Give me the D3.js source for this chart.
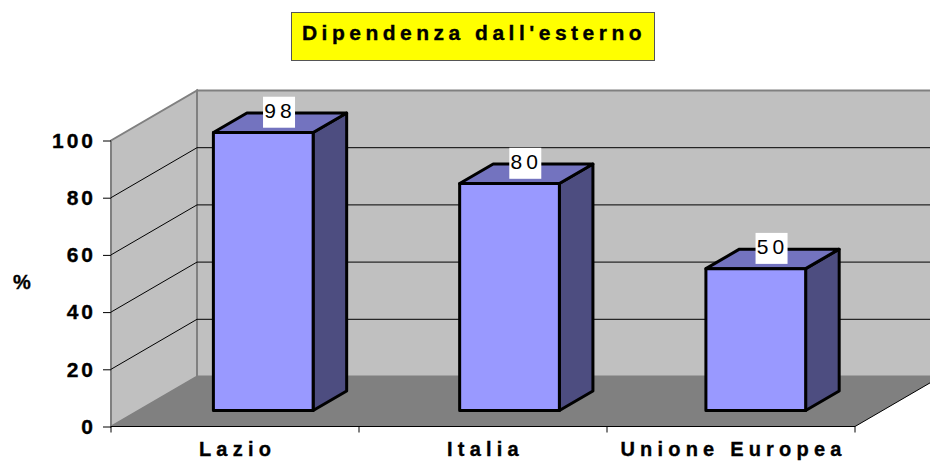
<!DOCTYPE html>
<html>
<head>
<meta charset="utf-8">
<script src="https://cdn.jsdelivr.net/npm/d3@7"></script>
<style>
    html, body { margin: 0; padding: 0; background: #fff; }
    svg { display: block; }
    text { font-family: "Liberation Sans", Arial, sans-serif; fill: #000; }
    .bold { font-weight: bold; stroke: #000; stroke-width: 0.35px; }
</style>
</head>
<body>
<div id="chart"></div>
<script>
var categories = ['Lazio', 'Italia', 'Unione Europea'];
var values = [98, 80, 50];
var yTicks = [0, 20, 40, 60, 80, 100];
var titleText = "Dipendenza dall'esterno";
var yLabel = '%';

var width = 930, height = 463;
var svg = d3.select('#chart').append('svg').attr('width', width).attr('height', height);

var x = d3.scaleBand().domain(categories).range([111, 855]).paddingInner(0.6).paddingOuter(0.3);
var y = d3.scaleLinear().domain([0, 100]).range([426.5, 140.5]);
// bars sit a little tighter than the axis box in the original
var barX = d3.scaleBand().domain(categories).range([112, 852]).paddingInner(0.595).paddingOuter(0.3);
var barH = d3.scaleLinear().domain([0, 100]).range([0, 283.7]);

// depth of the box, everything is sheared by this
var depthX = 86, depthY = -50;
function pt(px, v, z) {
    return [px + z * depthX, y(v) + z * depthY];
}
function barPt(px, v, z) {
    return [px + z * depthX, y(0) - barH(v) + z * depthY];
}
function poly(points) {
    return 'M' + points.map(function(p) { return p.join(','); }).join('L') + 'Z';
}

var left = x.range()[0], right = x.range()[1];

// walls and floor
svg.append('path')
    .attr('d', poly([pt(left, 0, 0), pt(left, 100, 0), pt(left, 100, 1), pt(left, 0, 1)]))
    .attr('fill', '#c0c0c0').attr('stroke', '#808080').attr('stroke-width', 2);
svg.append('path')
    .attr('d', poly([pt(left, 0, 1), pt(left, 100, 1), pt(right, 100, 1), pt(right, 0, 1)]))
    .attr('fill', '#c0c0c0').attr('stroke', '#808080').attr('stroke-width', 2);
svg.append('path')
    .attr('d', poly([pt(left, 0, 0), pt(left, 0, 1), pt(right, 0, 1), pt(right, 0, 0)]))
    .attr('fill', '#808080');

// gridlines on side and back wall
var grid = yTicks.filter(function(d) { return d > 0 && d < 100; });
svg.selectAll('.grid')
    .data(grid)
    .enter()
    .append('path')
    .attr('class', 'grid')
    .attr('fill', 'none')
    .attr('stroke', '#000')
    .attr('stroke-width', 1)
    .attr('d', function(d) {
        var a = pt(left, d, 0), b = pt(left, d, 1), c = pt(right, d, 1);
        return 'M' + a.join(',') + 'L' + b.join(',') + 'L' + c.join(',');
    });

// floor edge on the right
var edgeA = pt(right, 0, 0), edgeB = pt(right, 0, 1);
svg.append('line')
    .attr('x1', edgeA[0]).attr('y1', edgeA[1])
    .attr('x2', edgeB[0]).attr('y2', edgeB[1])
    .attr('stroke', '#000').attr('stroke-width', 1);

// bars
var zFront = 0.32, zBack = 0.71;
var bars = svg.selectAll('.bar')
    .data(categories)
    .enter()
    .append('g')
    .attr('class', 'bar')
    .attr('stroke', '#000')
    .attr('stroke-width', 3)
    .attr('stroke-linejoin', 'round');

bars.append('path')
    .attr('fill', '#4d4d80')
    .attr('d', function(d, i) {
        var r = barX(d) + barX.bandwidth();
        return poly([barPt(r, 0, zFront), barPt(r, 0, zBack), barPt(r, values[i], zBack), barPt(r, values[i], zFront)]);
    });
bars.append('path')
    .attr('fill', '#7373bf')
    .attr('d', function(d, i) {
        var l = barX(d), r = l + barX.bandwidth();
        return poly([barPt(l, values[i], zFront), barPt(l, values[i], zBack), barPt(r, values[i], zBack), barPt(r, values[i], zFront)]);
    });
bars.append('path')
    .attr('fill', '#9999ff')
    .attr('d', function(d, i) {
        var l = barX(d), r = l + barX.bandwidth();
        return poly([barPt(l, 0, zFront), barPt(l, values[i], zFront), barPt(r, values[i], zFront), barPt(r, 0, zFront)]);
    });

// value labels with the white box behind
var labels = svg.selectAll('.value')
    .data(categories)
    .enter()
    .append('g')
    .attr('class', 'value')
    .attr('transform', function(d, i) {
        var p = barPt(barX(d) + barX.bandwidth() / 2, values[i], (zFront + zBack) / 2);
        return 'translate(' + (p[0] - 1) + ',' + (p[1] - 11) + ')';
    });
labels.append('rect')
    .attr('x', -16).attr('y', -15).attr('width', 32).attr('height', 31)
    .attr('fill', '#fff');
labels.append('text')
    .attr('text-anchor', 'middle')
    .attr('x', 1)
    .attr('y', 6)
    .attr('font-size', 21)
    .attr('letter-spacing', 4)
    .text(function(d, i) { return values[i]; });

// axes
var yAxis = d3.axisLeft(y).tickValues(yTicks).tickSize(8).tickPadding(7);
var gy = svg.append('g').attr('transform', 'translate(' + left + ',0)').call(yAxis);
gy.select('.domain').remove();
gy.selectAll('line').attr('stroke', '#000');
gy.selectAll('text')
    .attr('class', 'bold')
    .attr('font-size', 21)
    .attr('letter-spacing', 3);

var xAxis = d3.axisBottom(x).tickSize(0).tickPadding(15);
var gx = svg.append('g').attr('transform', 'translate(0,' + y(0) + ')').call(xAxis);
gx.select('.domain').remove();
gx.selectAll('text')
    .attr('class', 'bold')
    .attr('font-size', 20)
    .attr('letter-spacing', 5.2)
    .attr('dx', 2.5);

svg.append('line')
    .attr('x1', left).attr('x2', right)
    .attr('y1', y(0)).attr('y2', y(0))
    .attr('stroke', '#000').attr('stroke-width', 1);

// ticks between categories
var xTicks = [left].concat(categories.map(function(d) { return x(d) + x.bandwidth() + x.step() * 0.3; }));
svg.selectAll('.xtick')
    .data(xTicks)
    .enter()
    .append('line')
    .attr('class', 'xtick')
    .attr('x1', function(d) { return d; })
    .attr('x2', function(d) { return d; })
    .attr('y1', y(0))
    .attr('y2', y(0) + 6)
    .attr('stroke', '#000');

// y label
svg.append('text')
    .attr('class', 'bold')
    .attr('x', 22).attr('y', 289)
    .attr('text-anchor', 'middle')
    .attr('font-size', 20)
    .text(yLabel);

// title
svg.append('rect')
    .attr('x', 291.5).attr('y', 12.5).attr('width', 363).attr('height', 48)
    .attr('fill', '#ffff00').attr('stroke', '#555').attr('stroke-width', 1);
svg.append('text')
    .attr('class', 'bold')
    .attr('x', 474).attr('y', 40)
    .attr('text-anchor', 'middle')
    .attr('font-size', 21)
    .attr('letter-spacing', 4.5)
    .text(titleText);
</script>
</body>
</html>
